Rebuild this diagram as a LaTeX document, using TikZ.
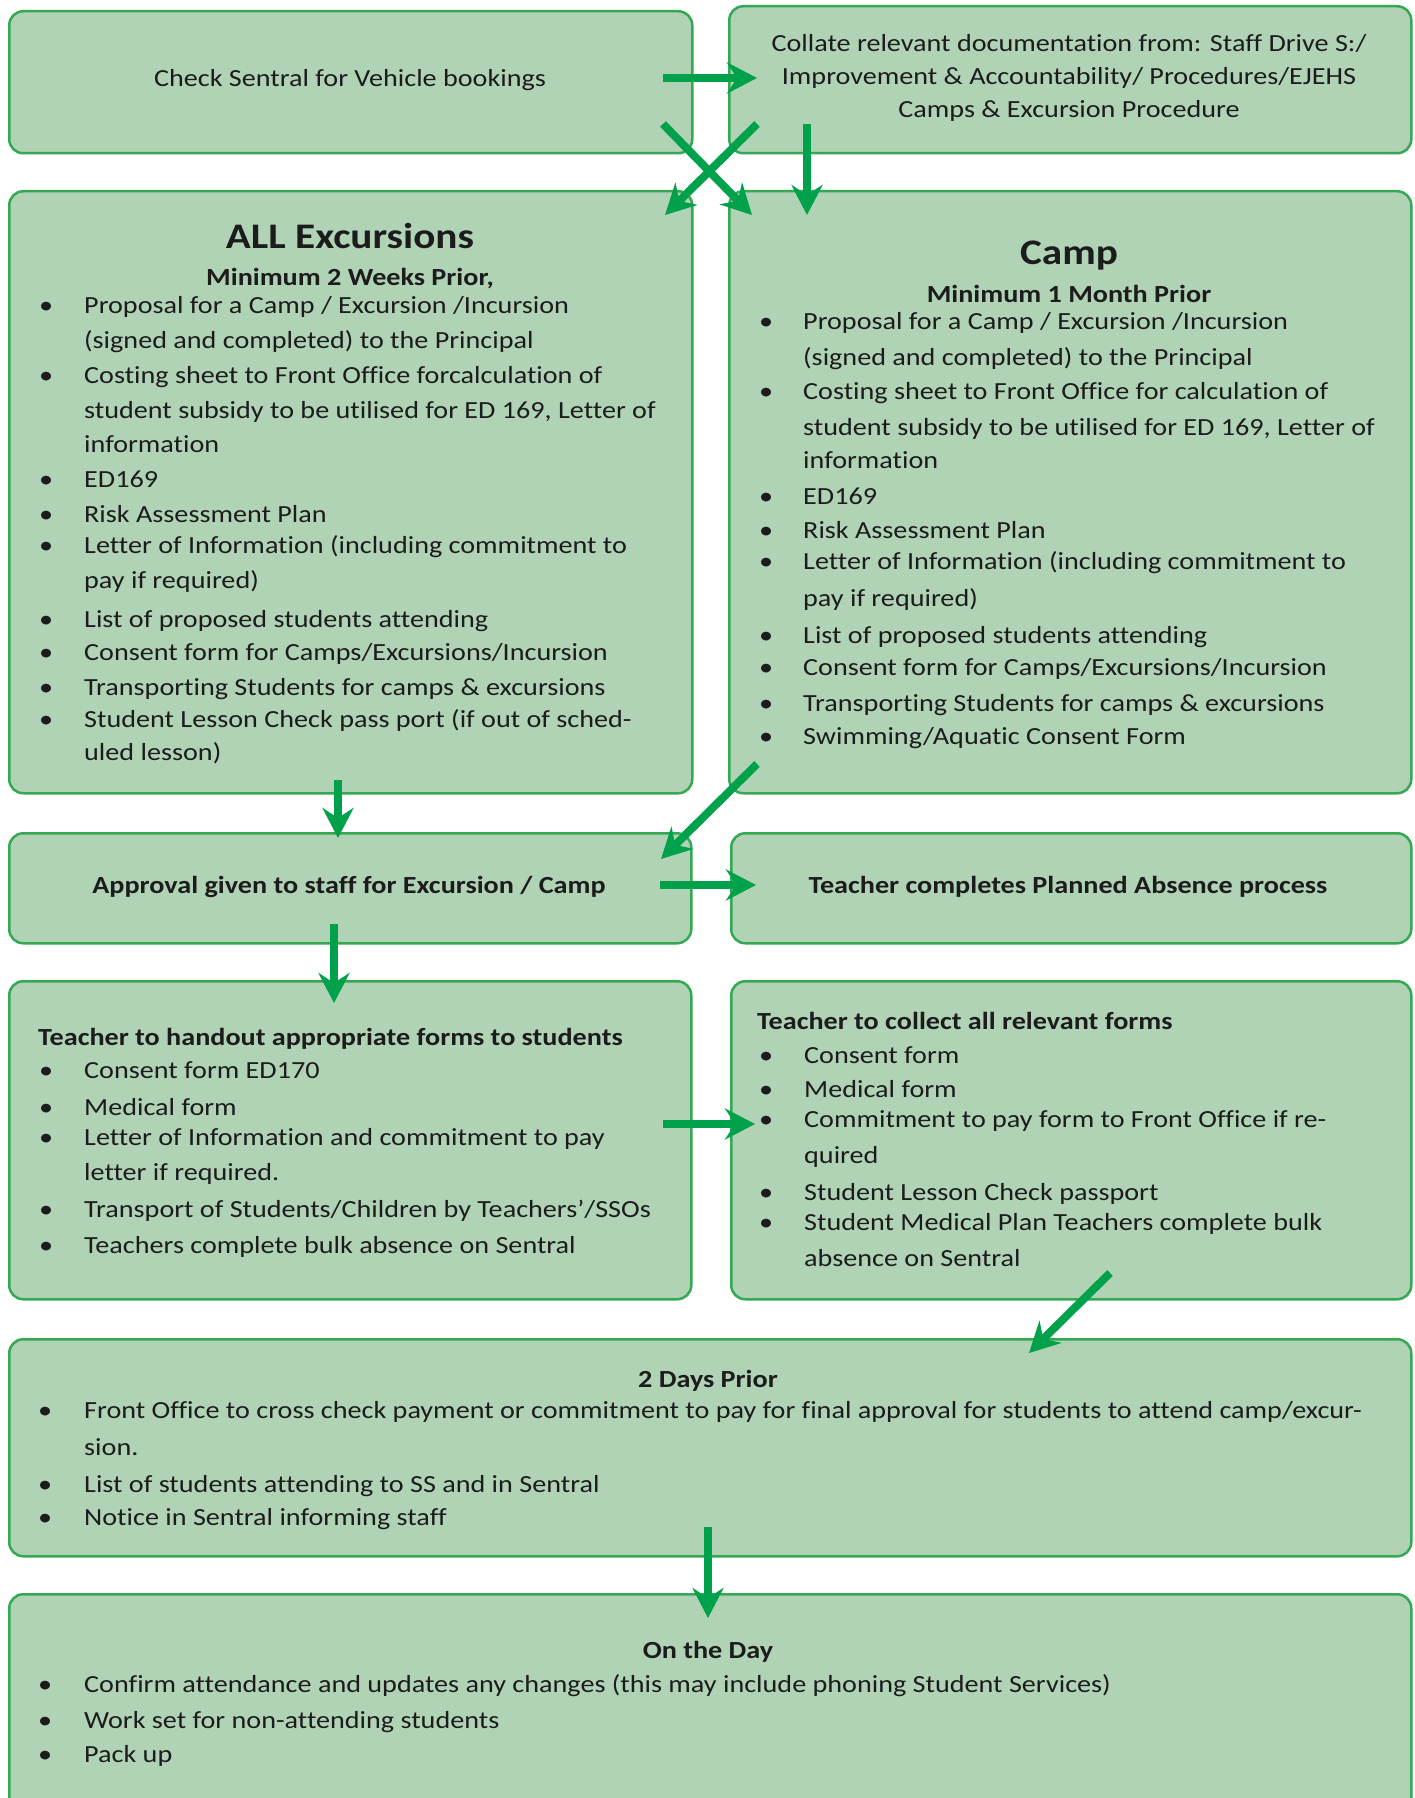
\documentclass[tikz,border=0pt]{standalone}
\usepackage{fontspec}
\setmainfont{Carlito}[FakeStretch=1.145, Ligatures=NoCommon]
\usetikzlibrary{arrows.meta}
\definecolor{boxfill}{HTML}{B0D3B5}
\definecolor{boxline}{HTML}{34A853}
\definecolor{arr}{HTML}{00A14B}
\definecolor{ink}{HTML}{1C1C1C}
\tikzset{
  box/.style={draw=boxline, line width=2.5pt, fill=boxfill, rounded corners=14pt, anchor=north west, inner sep=0pt},
  txt/.style={inner sep=0pt, anchor=base west, text=ink, font=\fontsize{24.6}{34.5}\selectfont},
  ctr/.style={txt, anchor=base},
  boldtxt/.style={font=\fontsize{24.6}{34.5}\selectfont\bfseries},
  bigtxt/.style={font=\fontsize{36}{40}\selectfont\bfseries},
  flow/.style={draw=arr, line width=8pt, -{Stealth[length=30pt, width=31pt, inset=10pt]}},
}
% #1 name, #2 bullet x, #3 text x, #4 baseline y, #5 text
\newcommand\bitem[5]{\node[txt] (#1b) at (#2,#4) {•}; \node[txt] (#1) at (#3,#4) {#5};}
\newcommand\citem[4]{\node[txt] (#1) at (#2,#3) {#4};}
\begin{document}
\begin{tikzpicture}[x=1pt,y=-1pt]
\useasboundingbox (0,0) rectangle (1415,1798);
\clip (0,0) rectangle (1415,1798);
% boxes
\node[box, minimum width=683pt, minimum height=142pt] (A) at (8,10) {};
\node[box, minimum width=682pt, minimum height=147pt] (B) at (728,5) {};
\node[box, minimum width=683pt, minimum height=602pt] (C) at (8,190) {};
\node[box, minimum width=682pt, minimum height=602pt] (D) at (728,190) {};
\node[box, minimum width=682pt, minimum height=110pt] (E) at (8,832) {};
\node[box, minimum width=680pt, minimum height=110pt] (F) at (730,832) {};
\node[box, minimum width=682pt, minimum height=318pt] (G) at (8,980) {};
\node[box, minimum width=680pt, minimum height=318pt] (H) at (730,980) {};
\node[box, minimum width=1402pt, minimum height=217pt] (I) at (8,1338) {};
\node[box, minimum width=1402pt, minimum height=240pt] (J) at (8,1593) {};
% A
\node[ctr] (At) at (350,87) {Check Sentral for Vehicle bookings};
% B
\node[ctr] (Bt1) at (1069,52) {Collate relevant documentation from: Staff Drive S:/};
\node[ctr] (Bt2) at (1069,85) {Improvement \& Accountability/ Procedures/EJEHS};
\node[ctr] (Bt3) at (1069,118) {Camps \& Excursion Procedure};
% C
\node[ctr, bigtxt] (Ch) at (350,248) {ALL Excursions};
\node[ctr, boldtxt] (Cs) at (350,285) {Minimum 2 Weeks Prior,};
\bitem{c1}{39}{84}{313}{Proposal for a Camp / Excursion /Incursion}
\citem{c2}{84}{348}{(signed and completed) to the Principal}
\bitem{c3}{39}{84}{383}{Costing sheet to Front Office forcalculation of}
\citem{c4}{84}{418}{student subsidy to be utilised for ED 169, Letter of}
\citem{c5}{84}{452}{information}
\bitem{c6}{39}{84}{487}{ED169}
\bitem{c7}{39}{84}{522}{Risk Assessment Plan}
\bitem{c8}{39}{84}{553}{Letter of Information (including commitment to}
\citem{c9}{84}{588}{pay if required)}
\bitem{c10}{39}{84}{627}{List of proposed students attending}
\bitem{c11}{39}{84}{660}{Consent form for Camps/Excursions/Incursion}
\bitem{c12}{39}{84}{695}{Transporting Students for camps \& excursions}
\bitem{c13}{39}{84}{727}{Student Lesson Check pass port (if out of sched-}
\citem{c14}{84}{760}{uled lesson)}
% D
\node[ctr, bigtxt] (Dh) at (1069,264) {Camp};
\node[ctr, boldtxt] (Ds) at (1069,302) {Minimum 1 Month Prior};
\bitem{d1}{759}{803}{329}{Proposal for a Camp / Excursion /Incursion}
\citem{d2}{803}{365}{(signed and completed) to the Principal}
\bitem{d3}{759}{803}{399}{Costing sheet to Front Office for calculation of}
\citem{d4}{803}{435}{student subsidy to be utilised for ED 169, Letter of}
\citem{d5}{803}{468}{information}
\bitem{d6}{759}{803}{504}{ED169}
\bitem{d7}{759}{803}{538}{Risk Assessment Plan}
\bitem{d8}{759}{803}{569}{Letter of Information (including commitment to}
\citem{d9}{803}{606}{pay if required)}
\bitem{d10}{759}{803}{643}{List of proposed students attending}
\bitem{d11}{759}{803}{675}{Consent form for Camps/Excursions/Incursion}
\bitem{d12}{759}{803}{711}{Transporting Students for camps \& excursions}
\bitem{d13}{759}{803}{744}{Swimming/Aquatic Consent Form}
% E, F
\node[ctr, boldtxt] (Et) at (349,893) {Approval given to staff for Excursion / Camp};
\node[ctr, boldtxt] (Ft) at (1068,893) {Teacher completes Planned Absence process};
% G
\node[txt, boldtxt] (Gh) at (38,1045) {Teacher to handout appropriate forms to students};
\bitem{g1}{39}{84}{1078}{Consent form ED170}
\bitem{g2}{39}{84}{1115}{Medical form}
\bitem{g3}{39}{84}{1145}{Letter of Information and commitment to pay}
\citem{g4}{84}{1180}{letter if required.}
\bitem{g5}{39}{84}{1217}{Transport of Students/Children by Teachers’/SSOs}
\bitem{g6}{39}{84}{1253}{Teachers complete bulk absence on Sentral}
% H
\node[txt, boldtxt] (Hh) at (757,1029) {Teacher to collect all relevant forms};
\bitem{h1}{759}{804}{1063}{Consent form}
\bitem{h2}{759}{804}{1097}{Medical form}
\bitem{h3}{759}{804}{1127}{Commitment to pay form to Front Office if re-}
\citem{h4}{804}{1163}{quired}
\bitem{h5}{759}{804}{1200}{Student Lesson Check passport}
\bitem{h6}{759}{804}{1230}{Student Medical Plan Teachers complete bulk}
\citem{h7}{804}{1266}{absence on Sentral}
% I
\node[ctr, boldtxt] (Ih) at (708,1387) {2 Days Prior};
\bitem{i1}{38}{84}{1418}{Front Office to cross check payment or commitment to pay for final approval for students to attend camp/excur-}
\citem{i2}{84}{1455}{sion.}
\bitem{i3}{38}{84}{1492}{List of students attending to SS and in Sentral}
\bitem{i4}{38}{84}{1525}{Notice in Sentral informing staff}
% J
\node[ctr, boldtxt] (Jh) at (708,1658) {On the Day};
\bitem{j1}{38}{84}{1692}{Confirm attendance and updates any changes (this may include phoning Student Services)}
\bitem{j2}{38}{84}{1728}{Work set for non-attending students}
\bitem{j3}{38}{84}{1762}{Pack up}
% connector ends
\coordinate (ab0) at (663,78);   \coordinate (ab1) at (757,78);
\coordinate (ad0) at (663,124);  \coordinate (ad1) at (752,215);
\coordinate (bc0) at (757,124);  \coordinate (bc1) at (665,215);
\coordinate (bd0) at (807,124);  \coordinate (bd1) at (807,215);
\coordinate (ce0) at (338,780);  \coordinate (ce1) at (338,838);
\coordinate (de0) at (757,764);  \coordinate (de1) at (661,859);
\coordinate (ef0) at (660,885);  \coordinate (ef1) at (756,885);
\coordinate (eg0) at (334,924);  \coordinate (eg1) at (334,1003);
\coordinate (gh0) at (663,1124); \coordinate (gh1) at (755,1124);
\coordinate (hi0) at (1110,1273);\coordinate (hi1) at (1029,1353);
\coordinate (ij0) at (708,1527); \coordinate (ij1) at (708,1618);
\draw[flow] (ab0) -- (ab1);
\draw[flow] (ad0) -- (ad1);
\draw[flow] (bc0) -- (bc1);
\draw[flow] (bd0) -- (bd1);
\draw[flow] (ce0) -- (ce1);
\draw[flow] (de0) -- (de1);
\draw[flow] (ef0) -- (ef1);
\draw[flow] (eg0) -- (eg1);
\draw[flow] (gh0) -- (gh1);
\draw[flow] (hi0) -- (hi1);
\draw[flow] (ij0) -- (ij1);
\end{tikzpicture}
\end{document}
